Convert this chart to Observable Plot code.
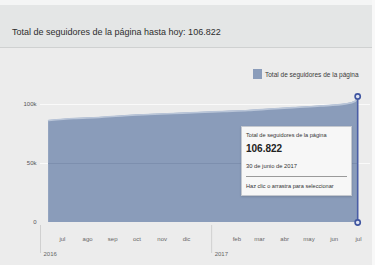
<!DOCTYPE html>
<html><head><meta charset="utf-8">
<script src="https://cdn.jsdelivr.net/npm/d3@7"></script>
<script src="https://cdn.jsdelivr.net/npm/@observablehq/plot@0.6"></script>
<style>
html,body{margin:0;padding:0;background:#ececec;}
body{width:375px;height:265px;overflow:hidden;position:relative;font-family:"Liberation Sans",Arial,sans-serif;}
#head{position:absolute;left:0;top:0;width:372px;height:48px;background:#e4e6e6;border-top:5px solid #f4f5f5;border-bottom:1px solid #cfd1d1;box-sizing:border-box;}
#title{position:absolute;left:12px;top:22px;font-size:9px;line-height:11px;color:#2e2e2e;white-space:nowrap;}
#rightedge{position:absolute;left:372px;top:0;width:3px;height:265px;background:#f8f8f8;}
#chart{position:absolute;left:0;top:48px;}
#legend{position:absolute;left:253px;top:69px;height:10px;display:flex;align-items:center;font-size:6.5px;color:#3a3a3a;white-space:nowrap;}
#legend .sw{width:9px;height:10px;background:#8a9cba;margin-right:3px;}
#tip{position:absolute;left:241px;top:126px;width:111px;height:70px;background:#f7f7f7;border:1px solid #c4c8cf;box-sizing:border-box;box-shadow:0 1px 2px rgba(0,0,0,0.15);color:#333;}
#tip div{position:absolute;left:4px;white-space:nowrap;}
#tip .t1{top:5px;font-size:5.6px;}
#tip .t2{top:16px;font-size:10px;font-weight:bold;color:#222;}
#tip .t3{top:36px;font-size:5.8px;}
#tip .sep{top:49px;left:4px;right:4px;height:1px;background:#9a9a9a;}
#tip .t4{top:56px;font-size:5.6px;}
</style>
</head><body>
<div id="head"><div id="title">Total de seguidores de la página hasta hoy: 106.822</div></div>
<div id="chart"></div>
<div id="legend"><span class="sw"></span><span id="legtext"></span></div>
<div id="tip">
  <div class="t1" id="tipSeries"></div>
  <div class="t2" id="tipValue"></div>
  <div class="t3" id="tipDate"></div>
  <div class="sep"></div>
  <div class="t4">Haz clic o arrastra para seleccionar</div>
</div>
<div id="rightedge"></div>
<script>
const seriesName = "Total de seguidores de la página";
const dates = ["2016-06-14","2016-07-15","2016-08-15","2016-09-15","2016-10-15","2016-11-15","2016-12-15","2017-01-15","2017-02-15","2017-03-15","2017-04-15","2017-05-15","2017-06-15","2017-06-27","2017-06-30"];
const followers = [86400,88100,89000,90500,91500,92400,93200,94100,94900,96200,97500,98700,100500,102800,106822];
const monthTicks = ["2016-07-01","2016-08-01","2016-09-01","2016-10-01","2016-11-01","2016-12-01","2017-02-01","2017-03-01","2017-04-01","2017-05-01","2017-06-01","2017-07-01"];
const monthLabels = ["jul","ago","sep","oct","nov","dic","feb","mar","abr","may","jun","jul"];
const yearTicks = ["2016-06-04","2017-01-01"];
const yearLabels = ["2016","2017"];
const yTicks = [0,50000,100000];
const yTickLabels = ["0","50k","100k"];
const xDomain = ["2016-06-04","2017-07-01"];

const data = dates.map((d,i)=>({date:new Date(d), value:followers[i]}));
const months = monthTicks.map((d,i)=>({date:new Date(d), label:monthLabels[i]}));
const years = yearTicks.map((d,i)=>({date:new Date(d), label:yearLabels[i]}));
const yt = yTicks.map((v,i)=>({v, label:yTickLabels[i]}));
const last = data[data.length-1];
const first = data[0];
const minVal = d3.min(followers);

const plot = Plot.plot({
  width: 375,
  height: 217,
  marginLeft: 40,
  marginRight: 5,
  marginTop: 10,
  marginBottom: 43,
  style: {background: "transparent", fontFamily: "Liberation Sans, Arial, sans-serif"},
  x: {type: "utc", domain: xDomain.map(d=>new Date(d)), range: [40, 358], axis: null},
  y: {domain: [0, 100000], range: [174, 56], axis: null},
  marks: [
    Plot.ruleY(yTicks.filter(v=>v>0), {stroke: "#fafafa", strokeWidth: 1.2}),
    Plot.areaY(data, {x: "date", y: "value", fill: "#8a9cba", curve: "monotone-x"}),
    Plot.lineY(data, {x: "date", y: "value", stroke: "#b9c5d8", strokeWidth: 1.6, curve: "monotone-x"}),
    Plot.ruleY(yTicks.filter(v=>v>0 && v<minVal), {x1: ()=>first.date, x2: ()=>last.date, stroke: "#7d8fae", strokeWidth: 1}),
    Plot.text(yt, {y: "v", text: "label", frameAnchor: "left", dx: -4, textAnchor: "end", fontSize: 6, fill: "#555"}),
    Plot.text(months, {x: "date", y: 0, text: "label", dy: 17, fontSize: 6, fill: "#666"}),
    Plot.ruleX(years, {x: "date", y1: 0, y2: 0, dy: 3, stroke: "#d0d0d0", strokeWidth: 1, insetBottom: -28}),
    Plot.text(years, {x: "date", y: 0, text: "label", dy: 32, dx: 3, textAnchor: "start", fontSize: 6, fill: "#666"}),
    Plot.ruleX([last], {x: "date", y1: 0, y2: "value", stroke: "#4a5ea6", strokeWidth: 1.6}),
    Plot.dot([last], {x: "date", y: "value", r: 2.6, stroke: "#3f55a0", strokeWidth: 1.6, fill: "#dfe4f2"}),
    Plot.dot([last], {x: "date", y: 0, r: 2.6, stroke: "#3f55a0", strokeWidth: 1.6, fill: "#dfe4f2"})
  ]
});
document.getElementById("chart").appendChild(plot);
document.getElementById("legtext").textContent = seriesName;
document.getElementById("tipSeries").textContent = seriesName;
document.getElementById("tipValue").textContent = d3.format(",")(last.value).replace(/,/g, ".");
document.getElementById("tipDate").textContent = "30 de junio de 2017";
</script>
</body></html>
